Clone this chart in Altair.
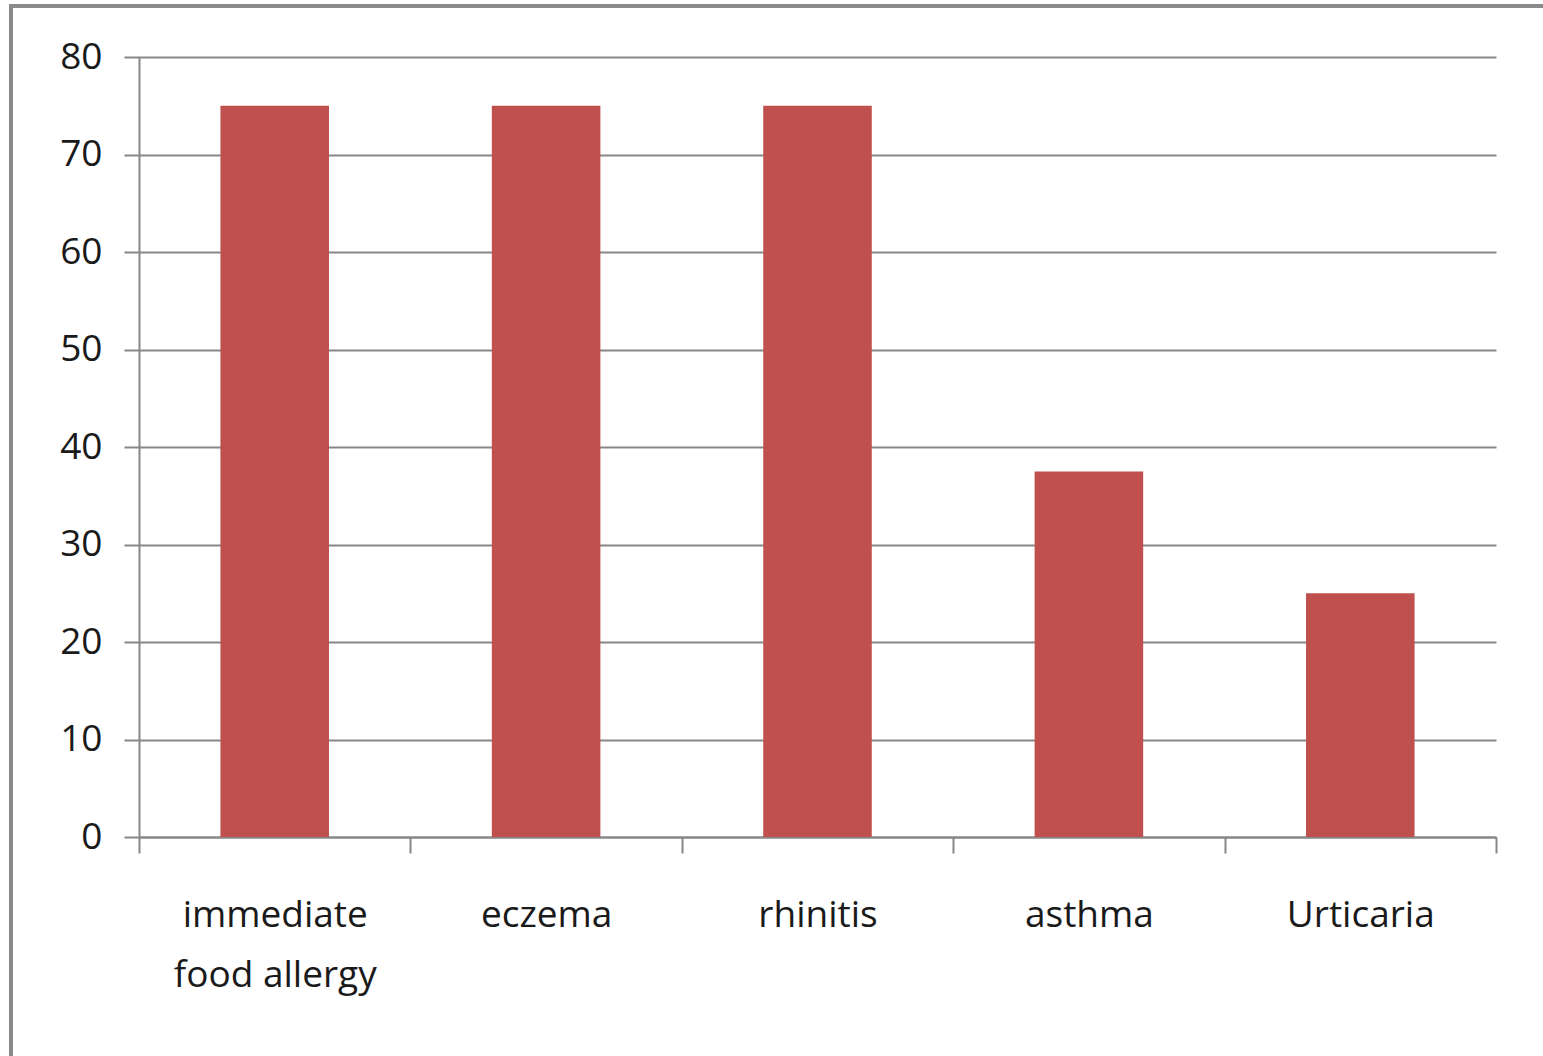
import altair as alt
import pandas as pd

# Prevalence (%) by allergic manifestation
categories = ["immediate food allergy", "eczema", "rhinitis", "asthma", "Urticaria"]
values = [75, 75, 75, 37.5, 25]
y_ticks = [0, 10, 20, 30, 40, 50, 60, 70, 80]

df = pd.DataFrame({"condition": categories, "percent": values})

PLOT_W = 1357
PLOT_H = 780
GRID = "#878787"
FONT = "Open Sans"
FONT_SIZE = 37

bars = alt.Chart(df).mark_bar(
    color="#C0504D",
    width=alt.RelativeBandSize(0.4),
).encode(
    x=alt.X(
        "condition:N",
        sort=None,
        title=None,
        scale=alt.Scale(paddingInner=0, paddingOuter=0),
        axis=alt.Axis(
            labelAngle=0,
            tickBand="extent",
            tickSize=16,
            tickColor=GRID,
            tickWidth=2,
            domainColor=GRID,
            domainWidth=2,
            labelFont=FONT,
            labelFontSize=FONT_SIZE,
            labelColor="#1a1a1a",
            labelPadding=44,
            labelBaseline="top",
            labelLineHeight=60,
            labelLimit=0,
            labelExpr="datum.label == 'immediate food allergy' ? ['immediate', 'food allergy'] : datum.label",
        ),
    ),
    y=alt.Y(
        "percent:Q",
        title=None,
        scale=alt.Scale(domain=[0, 80], nice=False),
        axis=alt.Axis(
            values=y_ticks,
            grid=True,
            gridColor=GRID,
            gridWidth=2,
            tickSize=15,
            tickColor=GRID,
            tickWidth=2,
            domainColor=GRID,
            domainWidth=2,
            labelFont=FONT,
            labelFontSize=FONT_SIZE,
            labelColor="#1a1a1a",
            labelPadding=22,
        ),
    ),
)

# Outer chart-area border (top and left edges visible)
frame_top = alt.Chart(df.head(1)).mark_rule(color="#8a8a8a", strokeWidth=4).encode(
    x=alt.value(-129), x2=alt.value(PLOT_W + 60), y=alt.value(-51)
)
frame_left = alt.Chart(df.head(1)).mark_rule(color="#8a8a8a", strokeWidth=4).encode(
    x=alt.value(-128), y=alt.value(-53), y2=alt.value(PLOT_H + 300)
)

chart = alt.layer(frame_top, frame_left, bars).properties(
    width=PLOT_W,
    height=PLOT_H,
    padding={"left": 139, "top": 57, "right": 47, "bottom": 219},
    autosize=alt.AutoSizeParams(type="none"),
    background="white",
).configure_view(stroke=None)

chart.save("out.html", embed_options={"renderer": "svg", "actions": False})
